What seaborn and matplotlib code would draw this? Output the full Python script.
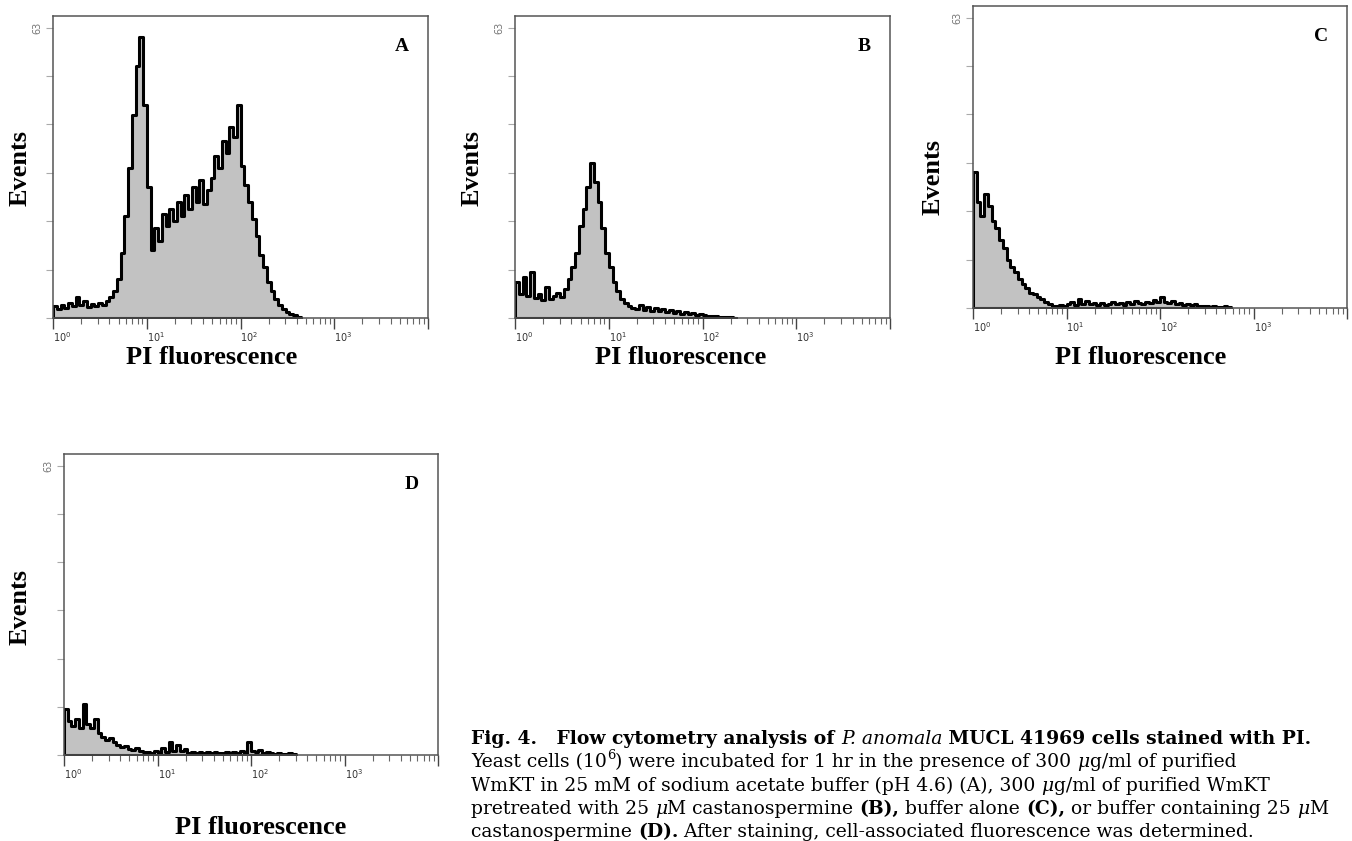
import numpy as np
import matplotlib
matplotlib.use("Agg")
import matplotlib.pyplot as plt
import seaborn as sns
from matplotlib.ticker import FixedLocator, NullFormatter

# event counts per channel, 25 channels per decade starting at 10^0
counts_a = [2.5, 1.8, 2.6, 2.0, 3.2, 2.4, 4.3, 2.6, 3.5, 2.2,
            2.9, 2.4, 3.1, 2.7, 3.6, 4.4, 5.5, 8.0, 13.5, 21.0,
            31.0, 42.0, 52.0, 58.0, 44.0, 27.0, 14.0, 18.5, 16.0, 21.5,
            19.0, 22.5, 20.0, 24.0, 21.0, 25.5, 22.5, 27.0, 24.0, 28.5,
            23.5, 26.5, 29.0, 33.5, 31.0, 36.5, 34.0, 39.5, 37.5, 44.0,
            31.5, 27.5, 24.0, 20.5, 17.0, 13.0, 10.5, 7.5, 5.5, 4.0,
            2.6, 1.8, 1.2, 0.9, 0.6, 0.3]
counts_b = [7.5, 5.0, 8.5, 4.5, 9.5, 4.2, 5.0, 3.8, 6.5, 4.0,
            4.5, 5.2, 4.4, 6.0, 8.0, 10.5, 13.5, 19.0, 22.5, 27.0,
            32.0, 28.0, 24.0, 18.5, 13.5, 10.5, 7.5, 5.5, 4.0, 3.2,
            2.5, 2.0, 1.8, 2.6, 1.6, 2.2, 1.5, 2.0, 1.4, 1.9,
            1.2, 1.6, 1.0, 1.4, 0.9, 1.2, 0.8, 1.0, 0.7, 0.8,
            0.6, 0.5, 0.5, 0.4, 0.3, 0.3, 0.2, 0.2, 0.1]
counts_c = [28.0, 22.0, 19.0, 23.5, 21.0, 18.0, 16.5, 14.0, 12.5, 10.0,
            8.5, 7.5, 6.0, 5.0, 4.2, 3.2, 2.8, 2.2, 1.8, 1.3,
            0.8, 0.5, 0.4, 0.6, 0.5, 0.8, 1.2, 0.6, 1.8, 0.9,
            1.4, 0.8, 1.1, 0.7, 1.0, 0.6, 0.9, 1.3, 0.8, 1.0,
            0.7, 1.2, 0.9, 1.5, 1.1, 0.8, 1.3, 1.0, 1.6, 1.2,
            2.2, 1.3, 1.0, 1.5, 0.9, 1.1, 0.7, 0.9, 0.6, 0.8,
            0.5, 0.4, 0.5, 0.3, 0.4, 0.2, 0.3, 0.5, 0.2]
counts_d = [9.5, 7.0, 6.0, 7.5, 5.5, 10.5, 6.5, 5.5, 7.5, 4.5,
            3.8, 3.2, 3.5, 2.6, 2.0, 1.6, 1.8, 1.3, 1.1, 1.4,
            0.8, 0.6, 0.7, 0.4, 0.8, 0.5, 1.5, 0.6, 2.6, 0.8,
            2.0, 0.9, 1.2, 0.5, 0.7, 0.4, 0.6, 0.5, 0.7, 0.4,
            0.6, 0.5, 0.4, 0.6, 0.5, 0.7, 0.4, 0.8, 0.5, 2.6,
            0.9, 0.6, 1.0, 0.5, 0.7, 0.4, 0.3, 0.5, 0.3, 0.2,
            0.4, 0.2]

panel_letters = ["A", "B", "C", "D"]
x_tick_labels = [r"$10^0$", r"$10^1$", r"$10^2$", r"$10^3$", ""]
y_top_label = "63"

caption = [
    [("Fig. 4.", "b"), ("   Flow cytometry analysis of ", "b"), ("P. anomala", "i"),
     (" MUCL 41969 cells stained with PI.", "b")],
    [("Yeast cells (10", "n"), ("6", "sup"), (") were incubated for 1 hr in the presence of 300 ", "n"),
     ("\u03bc", "i"), ("g/ml of purified", "n")],
    [("WmKT in 25 mM of sodium acetate buffer (pH 4.6) (A), 300 ", "n"), ("\u03bc", "i"),
     ("g/ml of purified WmKT", "n")],
    [("pretreated with 25 ", "n"), ("\u03bc", "i"), ("M castanospermine ", "n"), ("(B),", "b"),
     (" buffer alone ", "n"), ("(C),", "b"), (" or buffer containing 25 ", "n"), ("\u03bc", "i"), ("M", "n")],
    [("castanospermine ", "n"), ("(D).", "b"),
     (" After staining, cell-associated fluorescence was determined.", "n")],
]

W, H = 1352, 841
BIN_W = 0.04
LABEL_FONT = "Liberation Serif"
CAP_FONT = "DejaVu Serif"

sns.set_style("white")
plt.rcParams["text.color"] = "black"
fig = plt.figure(figsize=(W / 100, H / 100), dpi=100)


def px_axes(left, top, right, bottom):
    return fig.add_axes([left / W, 1 - bottom / H, (right - left) / W, (bottom - top) / H])


def draw_panel(ax, counts, letter):
    n = len(counts)
    centers = 10 ** (BIN_W * (np.arange(n) + 0.5))
    sns.histplot(x=centers, weights=counts, bins=n, binrange=(0, n * BIN_W),
                 log_scale=True, element="step", fill=True, color="#c2c2c2",
                 edgecolor="black", linewidth=2.2, alpha=1, ax=ax)
    ax.set_xlim(1, 1e4)
    ax.set_ylim(0, 62.4)
    ax.set_xlabel("")
    ax.set_ylabel("")

    ax.xaxis.set_major_locator(FixedLocator([1, 10, 100, 1000, 10000]))
    minors = [m * 10 ** k for k in range(4) for m in range(2, 10)]
    ax.xaxis.set_minor_locator(FixedLocator(minors))
    ax.xaxis.set_minor_formatter(NullFormatter())
    ax.set_xticklabels(x_tick_labels)
    for lbl in ax.get_xticklabels():
        lbl.set_ha("left")
    ax.tick_params(axis="x", which="major", bottom=True, length=8, width=1, color="#444444",
                   labelsize=7, labelcolor="#333333", pad=1)
    ax.tick_params(axis="x", which="minor", bottom=True, length=4, width=0.8, color="#666666")

    ax.set_yticks(np.arange(0, 61, 10))
    ax.set_yticklabels([""] * 6 + [y_top_label], rotation=90, va="center")
    ax.tick_params(axis="y", left=True, length=5, width=0.8, color="#aaaaaa",
                   labelsize=7, labelcolor="#777777", pad=3)

    for sp in ax.spines.values():
        sp.set_color("#555555")
        sp.set_linewidth(1.1)

    ax.text(0.93, 0.90, letter, transform=ax.transAxes, ha="center", va="center",
            fontsize=14, fontweight="bold", family=LABEL_FONT, color="black")


axes = [px_axes(53, 16, 428, 318), px_axes(515, 16, 890, 318),
        px_axes(973, 6, 1347, 308), px_axes(64, 454, 438, 755)]
for ax, c, letter in zip(axes, [counts_a, counts_b, counts_c, counts_d], panel_letters):
    draw_panel(ax, c, letter)

# axis titles placed as in the scanned figure
for x, y in [(20, 168), (472, 168), (933, 177), (20, 607)]:
    fig.text(x / W, 1 - y / H, "Events", rotation=90, ha="center", va="center",
             fontsize=19, fontweight="bold", family=LABEL_FONT)
for x, y in [(212, 357), (681, 357), (1141, 357), (261, 827)]:
    fig.text(x / W, 1 - y / H, "PI fluorescence", ha="center", va="center",
             fontsize=19, fontweight="bold", family=LABEL_FONT)

# caption with mixed styles
renderer = fig.canvas.get_renderer()
cap_size = 13.5
x0, y0, dy_line = 471, 744, 23.3
for i, parts in enumerate(caption):
    x = x0
    y = y0 + i * dy_line
    for s, st in parts:
        kw = dict(fontsize=cap_size, family=CAP_FONT, ha="left", va="baseline")
        yy = y
        if st == "b":
            kw["fontweight"] = "bold"
        elif st == "i":
            kw["fontstyle"] = "italic"
        elif st == "sup":
            kw["fontsize"] = cap_size * 0.7
            yy = y - cap_size * 0.6
        t = fig.text(x / W, 1 - yy / H, s, **kw)
        x += t.get_window_extent(renderer).width

fig.savefig("out.png", dpi=100)
